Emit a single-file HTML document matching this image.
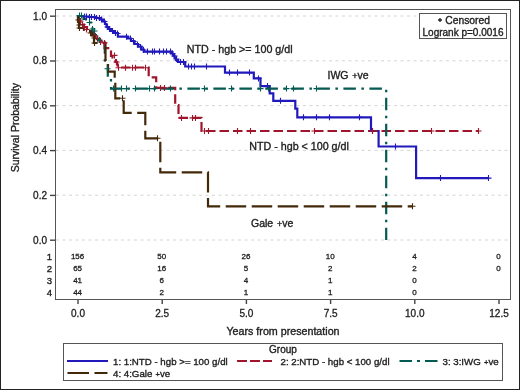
<!DOCTYPE html>
<html><head><meta charset="utf-8"><title>Survival plot</title>
<style>
html,body{margin:0;padding:0;background:#fff;}
body{width:520px;height:390px;overflow:hidden;}
svg{display:block;}
text{font-family:"Liberation Sans", Arial, sans-serif;fill:#222;stroke:#222;stroke-width:0.35px;}
text.t{stroke-width:0.3px;}
</style></head><body>
<svg width="520" height="390" viewBox="0 0 520 390">
<rect x="0.5" y="0.5" width="519" height="389" fill="#fff" stroke="#222" stroke-width="1"/>
<line x1="56" y1="16.0" x2="510" y2="16.0" stroke="#d4d4d4" stroke-width="1" stroke-dasharray="3,3.5"/>
<line x1="56" y1="60.8" x2="510" y2="60.8" stroke="#d4d4d4" stroke-width="1" stroke-dasharray="3,3.5"/>
<line x1="56" y1="105.6" x2="510" y2="105.6" stroke="#d4d4d4" stroke-width="1" stroke-dasharray="3,3.5"/>
<line x1="56" y1="150.4" x2="510" y2="150.4" stroke="#d4d4d4" stroke-width="1" stroke-dasharray="3,3.5"/>
<line x1="56" y1="195.2" x2="510" y2="195.2" stroke="#d4d4d4" stroke-width="1" stroke-dasharray="3,3.5"/>
<line x1="56" y1="240.0" x2="510" y2="240.0" stroke="#d4d4d4" stroke-width="1" stroke-dasharray="3,3.5"/>
<path d="M78,16 H84 V16.5 H89 V17 H96 V18 H100 V19.5 H103 V21.5 H105 V24 H106.5 V27 H108.5 V29 H111 V31 H114 V33 H117.9 V36.7 H128 V38.5 H131 V41 H134.5 V44 H138 V46.5 H141.5 V49.5 H143.8 V51.6 H171.5 V53.5 H173 V55.5 H174.5 V57.5 H176 V60 H178 V62 H185.2 V66.5 H225 V72.6 H253.8 V78.4 H260.5 V86.1 H269.7 V93.3 H273.3 V100.8 H295.3 V108.7 H297.3 V117.3 H371 V131 H378.6 V146.5 H416.1 V178.1 H488.5" fill="none" stroke="#2119BC" stroke-width="2.2"/>
<path d="M78,16 V19 H80 V22 H82 V24.5 H84 V27 H87 V29.5 H90 V32 H94 V35.6 H97 V38.8 H100 V41 H101.5 V42.9 H104.5 V48.2 H111 V56 H112.5 V57.5 H114 V60 H115.5 V62 H117 V64.5 H117.8 V67.5 H148.7 V77.3 H156.2 V87.9 H175.2 V105 H178.5 V117.9 H201.5 V131 H478" fill="none" stroke="#A0152B" stroke-width="2.2" stroke-dasharray="9.5,4"/>
<path d="M78,16 H83.5 V19 H86 V22.5 H91 V26 H92.5 V35 H96 V40 H104.8 V60 H107.8 V79 H111 V88.6 H386.2 V240" fill="none" stroke="#025A50" stroke-width="2.2" stroke-dasharray="12.5,5.5,2.5,5.5"/>
<path d="M78,16 V22 H79 V28 H84 V30 H89 V31 H91.5 V35.5 H94 V43 H105.5 V60.8 H108 V71.7 H114.7 V78 H115.3 V98.3 H123.7 V112.8 H145.3 V138.3 H160.3 V172.3 H208 V206.3 H412" fill="none" stroke="#44280A" stroke-width="2.2" stroke-dasharray="20.5,5.5"/>
<path d="M81.5,16.5H87.5M84.5,13.5V19.5" stroke="#2119BC" stroke-width="1.1" fill="none"/>
<path d="M83.5,16.5H89.5M86.5,13.5V19.5" stroke="#2119BC" stroke-width="1.1" fill="none"/>
<path d="M86.5,17H92.5M89.5,14V20" stroke="#2119BC" stroke-width="1.1" fill="none"/>
<path d="M88.5,17H94.5M91.5,14V20" stroke="#2119BC" stroke-width="1.1" fill="none"/>
<path d="M91.5,17H97.5M94.5,14V20" stroke="#2119BC" stroke-width="1.1" fill="none"/>
<path d="M93.5,18H99.5M96.5,15V21" stroke="#2119BC" stroke-width="1.1" fill="none"/>
<path d="M96.5,18H102.5M99.5,15V21" stroke="#2119BC" stroke-width="1.1" fill="none"/>
<path d="M98.5,19.5H104.5M101.5,16.5V22.5" stroke="#2119BC" stroke-width="1.1" fill="none"/>
<path d="M101.5,21.5H107.5M104.5,18.5V24.5" stroke="#2119BC" stroke-width="1.1" fill="none"/>
<path d="M104.5,27H110.5M107.5,24V30" stroke="#2119BC" stroke-width="1.1" fill="none"/>
<path d="M106.5,29H112.5M109.5,26V32" stroke="#2119BC" stroke-width="1.1" fill="none"/>
<path d="M109.5,31H115.5M112.5,28V34" stroke="#2119BC" stroke-width="1.1" fill="none"/>
<path d="M112.5,33H118.5M115.5,30V36" stroke="#2119BC" stroke-width="1.1" fill="none"/>
<path d="M114.5,33.5H120.5M117.5,30.5V36.5" stroke="#2119BC" stroke-width="1.1" fill="none"/>
<path d="M123.5,36.7H129.5M126.5,33.7V39.7" stroke="#2119BC" stroke-width="1.1" fill="none"/>
<path d="M127.5,38.5H133.5M130.5,35.5V41.5" stroke="#2119BC" stroke-width="1.1" fill="none"/>
<path d="M130.5,41.5H136.5M133.5,38.5V44.5" stroke="#2119BC" stroke-width="1.1" fill="none"/>
<path d="M134.5,44.5H140.5M137.5,41.5V47.5" stroke="#2119BC" stroke-width="1.1" fill="none"/>
<path d="M137.5,47H143.5M140.5,44V50" stroke="#2119BC" stroke-width="1.1" fill="none"/>
<path d="M140.5,50H146.5M143.5,47V53" stroke="#2119BC" stroke-width="1.1" fill="none"/>
<path d="M144.5,51.6H150.5M147.5,48.6V54.6" stroke="#2119BC" stroke-width="1.1" fill="none"/>
<path d="M149.5,51.6H155.5M152.5,48.6V54.6" stroke="#2119BC" stroke-width="1.1" fill="none"/>
<path d="M151.5,51.6H157.5M154.5,48.6V54.6" stroke="#2119BC" stroke-width="1.1" fill="none"/>
<path d="M156.5,51.6H162.5M159.5,48.6V54.6" stroke="#2119BC" stroke-width="1.1" fill="none"/>
<path d="M160.5,51.6H166.5M163.5,48.6V54.6" stroke="#2119BC" stroke-width="1.1" fill="none"/>
<path d="M163.5,51.6H169.5M166.5,48.6V54.6" stroke="#2119BC" stroke-width="1.1" fill="none"/>
<path d="M167.5,51.6H173.5M170.5,48.6V54.6" stroke="#2119BC" stroke-width="1.1" fill="none"/>
<path d="M169.5,53.5H175.5M172.5,50.5V56.5" stroke="#2119BC" stroke-width="1.1" fill="none"/>
<path d="M171.5,56H177.5M174.5,53V59" stroke="#2119BC" stroke-width="1.1" fill="none"/>
<path d="M173.5,59H179.5M176.5,56V62" stroke="#2119BC" stroke-width="1.1" fill="none"/>
<path d="M177.5,62H183.5M180.5,59V65" stroke="#2119BC" stroke-width="1.1" fill="none"/>
<path d="M180.5,62H186.5M183.5,59V65" stroke="#2119BC" stroke-width="1.1" fill="none"/>
<path d="M185.5,66.5H191.5M188.5,63.5V69.5" stroke="#2119BC" stroke-width="1.1" fill="none"/>
<path d="M188.5,66.5H194.5M191.5,63.5V69.5" stroke="#2119BC" stroke-width="1.1" fill="none"/>
<path d="M191.5,66.5H197.5M194.5,63.5V69.5" stroke="#2119BC" stroke-width="1.1" fill="none"/>
<path d="M203.5,66.5H209.5M206.5,63.5V69.5" stroke="#2119BC" stroke-width="1.1" fill="none"/>
<path d="M226.5,72.6H232.5M229.5,69.6V75.6" stroke="#2119BC" stroke-width="1.1" fill="none"/>
<path d="M234.5,72.6H240.5M237.5,69.6V75.6" stroke="#2119BC" stroke-width="1.1" fill="none"/>
<path d="M246.5,72.6H252.5M249.5,69.6V75.6" stroke="#2119BC" stroke-width="1.1" fill="none"/>
<path d="M255.5,78.4H261.5M258.5,75.4V81.4" stroke="#2119BC" stroke-width="1.1" fill="none"/>
<path d="M264.5,86.1H270.5M267.5,83.1V89.1" stroke="#2119BC" stroke-width="1.1" fill="none"/>
<path d="M277.5,100.8H283.5M280.5,97.8V103.8" stroke="#2119BC" stroke-width="1.1" fill="none"/>
<path d="M300.5,117.3H306.5M303.5,114.3V120.3" stroke="#2119BC" stroke-width="1.1" fill="none"/>
<path d="M313.5,117.3H319.5M316.5,114.3V120.3" stroke="#2119BC" stroke-width="1.1" fill="none"/>
<path d="M326.5,117.3H332.5M329.5,114.3V120.3" stroke="#2119BC" stroke-width="1.1" fill="none"/>
<path d="M356.5,117.3H362.5M359.5,114.3V120.3" stroke="#2119BC" stroke-width="1.1" fill="none"/>
<path d="M369.5,131H375.5M372.5,128V134" stroke="#2119BC" stroke-width="1.1" fill="none"/>
<path d="M392.5,146.5H398.5M395.5,143.5V149.5" stroke="#2119BC" stroke-width="1.1" fill="none"/>
<path d="M437.5,178.1H443.5M440.5,175.1V181.1" stroke="#2119BC" stroke-width="1.1" fill="none"/>
<path d="M485.5,178.1H491.5M488.5,175.1V181.1" stroke="#2119BC" stroke-width="1.1" fill="none"/>
<path d="M77.5,21H83.5M80.5,18V24" stroke="#A0152B" stroke-width="1.1" fill="none"/>
<path d="M79.5,24.5H85.5M82.5,21.5V27.5" stroke="#A0152B" stroke-width="1.1" fill="none"/>
<path d="M81.5,27.5H87.5M84.5,24.5V30.5" stroke="#A0152B" stroke-width="1.1" fill="none"/>
<path d="M83.5,29.5H89.5M86.5,26.5V32.5" stroke="#A0152B" stroke-width="1.1" fill="none"/>
<path d="M92.5,36H98.5M95.5,33V39" stroke="#A0152B" stroke-width="1.1" fill="none"/>
<path d="M94.5,38.8H100.5M97.5,35.8V41.8" stroke="#A0152B" stroke-width="1.1" fill="none"/>
<path d="M97.5,42H103.5M100.5,39V45" stroke="#A0152B" stroke-width="1.1" fill="none"/>
<path d="M101.5,42.9H107.5M104.5,39.9V45.9" stroke="#A0152B" stroke-width="1.1" fill="none"/>
<path d="M111.5,55.4H117.5M114.5,52.4V58.4" stroke="#A0152B" stroke-width="1.1" fill="none"/>
<path d="M113.5,62H119.5M116.5,59V65" stroke="#A0152B" stroke-width="1.1" fill="none"/>
<path d="M115.5,67.7H121.5M118.5,64.7V70.7" stroke="#A0152B" stroke-width="1.1" fill="none"/>
<path d="M122.5,67.7H128.5M125.5,64.7V70.7" stroke="#A0152B" stroke-width="1.1" fill="none"/>
<path d="M129.5,67.7H135.5M132.5,64.7V70.7" stroke="#A0152B" stroke-width="1.1" fill="none"/>
<path d="M132.5,67.7H138.5M135.5,64.7V70.7" stroke="#A0152B" stroke-width="1.1" fill="none"/>
<path d="M142.5,67.7H148.5M145.5,64.7V70.7" stroke="#A0152B" stroke-width="1.1" fill="none"/>
<path d="M157.5,87.9H163.5M160.5,84.9V90.9" stroke="#A0152B" stroke-width="1.1" fill="none"/>
<path d="M161.5,87.9H167.5M164.5,84.9V90.9" stroke="#A0152B" stroke-width="1.1" fill="none"/>
<path d="M178.5,117.9H184.5M181.5,114.9V120.9" stroke="#A0152B" stroke-width="1.1" fill="none"/>
<path d="M189.5,117.9H195.5M192.5,114.9V120.9" stroke="#A0152B" stroke-width="1.1" fill="none"/>
<path d="M192.5,117.9H198.5M195.5,114.9V120.9" stroke="#A0152B" stroke-width="1.1" fill="none"/>
<path d="M201.5,131H207.5M204.5,128V134" stroke="#A0152B" stroke-width="1.1" fill="none"/>
<path d="M205.5,131H211.5M208.5,128V134" stroke="#A0152B" stroke-width="1.1" fill="none"/>
<path d="M234.5,131H240.5M237.5,128V134" stroke="#A0152B" stroke-width="1.1" fill="none"/>
<path d="M247.5,131H253.5M250.5,128V134" stroke="#A0152B" stroke-width="1.1" fill="none"/>
<path d="M311.5,131H317.5M314.5,128V134" stroke="#A0152B" stroke-width="1.1" fill="none"/>
<path d="M369.5,131H375.5M372.5,128V134" stroke="#A0152B" stroke-width="1.1" fill="none"/>
<path d="M428.5,131H434.5M431.5,128V134" stroke="#A0152B" stroke-width="1.1" fill="none"/>
<path d="M475.5,131H481.5M478.5,128V134" stroke="#A0152B" stroke-width="1.1" fill="none"/>
<path d="M76.5,15.5H82.5M79.5,12.5V18.5" stroke="#025A50" stroke-width="1.1" fill="none"/>
<path d="M78.5,15.5H84.5M81.5,12.5V18.5" stroke="#025A50" stroke-width="1.1" fill="none"/>
<path d="M86.5,22.5H92.5M89.5,19.5V25.5" stroke="#025A50" stroke-width="1.1" fill="none"/>
<path d="M89.5,29H95.5M92.5,26V32" stroke="#025A50" stroke-width="1.1" fill="none"/>
<path d="M91.5,31H97.5M94.5,28V34" stroke="#025A50" stroke-width="1.1" fill="none"/>
<path d="M96.5,40H102.5M99.5,37V43" stroke="#025A50" stroke-width="1.1" fill="none"/>
<path d="M104.5,68.8H110.5M107.5,65.8V71.8" stroke="#025A50" stroke-width="1.1" fill="none"/>
<path d="M110.5,88.6H116.5M113.5,85.6V91.6" stroke="#025A50" stroke-width="1.1" fill="none"/>
<path d="M118.5,88.6H124.5M121.5,85.6V91.6" stroke="#025A50" stroke-width="1.1" fill="none"/>
<path d="M123.5,88.6H129.5M126.5,85.6V91.6" stroke="#025A50" stroke-width="1.1" fill="none"/>
<path d="M132.5,88.6H138.5M135.5,85.6V91.6" stroke="#025A50" stroke-width="1.1" fill="none"/>
<path d="M146.5,88.6H152.5M149.5,85.6V91.6" stroke="#025A50" stroke-width="1.1" fill="none"/>
<path d="M151.5,88.6H157.5M154.5,85.6V91.6" stroke="#025A50" stroke-width="1.1" fill="none"/>
<path d="M167.5,88.6H173.5M170.5,85.6V91.6" stroke="#025A50" stroke-width="1.1" fill="none"/>
<path d="M201.5,88.6H207.5M204.5,85.6V91.6" stroke="#025A50" stroke-width="1.1" fill="none"/>
<path d="M228.5,88.6H234.5M231.5,85.6V91.6" stroke="#025A50" stroke-width="1.1" fill="none"/>
<path d="M257.5,88.6H263.5M260.5,85.6V91.6" stroke="#025A50" stroke-width="1.1" fill="none"/>
<path d="M265.5,88.6H271.5M268.5,85.6V91.6" stroke="#025A50" stroke-width="1.1" fill="none"/>
<path d="M283.5,88.6H289.5M286.5,85.6V91.6" stroke="#025A50" stroke-width="1.1" fill="none"/>
<path d="M290.5,88.6H296.5M293.5,85.6V91.6" stroke="#025A50" stroke-width="1.1" fill="none"/>
<path d="M313.5,88.6H319.5M316.5,85.6V91.6" stroke="#025A50" stroke-width="1.1" fill="none"/>
<path d="M75.5,20H81.5M78.5,17V23" stroke="#44280A" stroke-width="1.1" fill="none"/>
<path d="M76.5,25H82.5M79.5,22V28" stroke="#44280A" stroke-width="1.1" fill="none"/>
<path d="M76.5,28H82.5M79.5,25V31" stroke="#44280A" stroke-width="1.1" fill="none"/>
<path d="M87.5,33H93.5M90.5,30V36" stroke="#44280A" stroke-width="1.1" fill="none"/>
<path d="M91.5,38H97.5M94.5,35V41" stroke="#44280A" stroke-width="1.1" fill="none"/>
<path d="M91.5,43H97.5M94.5,40V46" stroke="#44280A" stroke-width="1.1" fill="none"/>
<path d="M119.5,98.3H125.5M122.5,95.3V101.3" stroke="#44280A" stroke-width="1.1" fill="none"/>
<path d="M154.5,138.3H160.5M157.5,135.3V141.3" stroke="#44280A" stroke-width="1.1" fill="none"/>
<path d="M409.5,206.3H415.5M412.5,203.3V209.3" stroke="#44280A" stroke-width="1.1" fill="none"/>
<rect x="55.5" y="9.5" width="455" height="290" fill="none" stroke="#555" stroke-width="1"/>
<line x1="50" y1="16.2" x2="55" y2="16.2" stroke="#444" stroke-width="1.4"/>
<text x="47" y="19.5" text-anchor="end" font-size="10" class="t">1.0</text>
<line x1="50" y1="61.0" x2="55" y2="61.0" stroke="#444" stroke-width="1.4"/>
<text x="47" y="64.3" text-anchor="end" font-size="10" class="t">0.8</text>
<line x1="50" y1="105.8" x2="55" y2="105.8" stroke="#444" stroke-width="1.4"/>
<text x="47" y="109.1" text-anchor="end" font-size="10" class="t">0.6</text>
<line x1="50" y1="150.6" x2="55" y2="150.6" stroke="#444" stroke-width="1.4"/>
<text x="47" y="153.9" text-anchor="end" font-size="10" class="t">0.4</text>
<line x1="50" y1="195.4" x2="55" y2="195.4" stroke="#444" stroke-width="1.4"/>
<text x="47" y="198.7" text-anchor="end" font-size="10" class="t">0.2</text>
<line x1="50" y1="240.2" x2="55" y2="240.2" stroke="#444" stroke-width="1.4"/>
<text x="47" y="243.5" text-anchor="end" font-size="10" class="t">0.0</text>
<line x1="78.0" y1="300" x2="78.0" y2="304" stroke="#444" stroke-width="1.4"/>
<text x="78.0" y="316.9" text-anchor="middle" font-size="10" class="t">0.0</text>
<line x1="162.2" y1="300" x2="162.2" y2="304" stroke="#444" stroke-width="1.4"/>
<text x="162.2" y="316.9" text-anchor="middle" font-size="10" class="t">2.5</text>
<line x1="246.4" y1="300" x2="246.4" y2="304" stroke="#444" stroke-width="1.4"/>
<text x="246.4" y="316.9" text-anchor="middle" font-size="10" class="t">5.0</text>
<line x1="330.6" y1="300" x2="330.6" y2="304" stroke="#444" stroke-width="1.4"/>
<text x="330.6" y="316.9" text-anchor="middle" font-size="10" class="t">7.5</text>
<line x1="414.8" y1="300" x2="414.8" y2="304" stroke="#444" stroke-width="1.4"/>
<text x="414.8" y="316.9" text-anchor="middle" font-size="10" class="t">10.0</text>
<line x1="499.0" y1="300" x2="499.0" y2="304" stroke="#444" stroke-width="1.4"/>
<text x="499.0" y="316.9" text-anchor="middle" font-size="10" class="t">12.5</text>
<text x="49.5" y="259.9" text-anchor="middle" font-size="9.5">1</text>
<text x="77.6" y="259.4" text-anchor="middle" font-size="8" class="t">156</text>
<text x="161.8" y="259.4" text-anchor="middle" font-size="8" class="t">50</text>
<text x="246.0" y="259.4" text-anchor="middle" font-size="8" class="t">26</text>
<text x="330.2" y="259.4" text-anchor="middle" font-size="8" class="t">10</text>
<text x="414.4" y="259.4" text-anchor="middle" font-size="8" class="t">4</text>
<text x="498.6" y="259.4" text-anchor="middle" font-size="8" class="t">0</text>
<text x="49.5" y="271.9" text-anchor="middle" font-size="9.5">2</text>
<text x="77.6" y="271.4" text-anchor="middle" font-size="8" class="t">65</text>
<text x="161.8" y="271.4" text-anchor="middle" font-size="8" class="t">16</text>
<text x="246.0" y="271.4" text-anchor="middle" font-size="8" class="t">5</text>
<text x="330.2" y="271.4" text-anchor="middle" font-size="8" class="t">2</text>
<text x="414.4" y="271.4" text-anchor="middle" font-size="8" class="t">2</text>
<text x="498.6" y="271.4" text-anchor="middle" font-size="8" class="t">0</text>
<text x="49.5" y="283.9" text-anchor="middle" font-size="9.5">3</text>
<text x="77.6" y="283.4" text-anchor="middle" font-size="8" class="t">41</text>
<text x="161.8" y="283.4" text-anchor="middle" font-size="8" class="t">6</text>
<text x="246.0" y="283.4" text-anchor="middle" font-size="8" class="t">4</text>
<text x="330.2" y="283.4" text-anchor="middle" font-size="8" class="t">1</text>
<text x="414.4" y="283.4" text-anchor="middle" font-size="8" class="t">0</text>
<text x="49.5" y="295.9" text-anchor="middle" font-size="9.5">4</text>
<text x="77.6" y="295.4" text-anchor="middle" font-size="8" class="t">44</text>
<text x="161.8" y="295.4" text-anchor="middle" font-size="8" class="t">2</text>
<text x="246.0" y="295.4" text-anchor="middle" font-size="8" class="t">1</text>
<text x="330.2" y="295.4" text-anchor="middle" font-size="8" class="t">1</text>
<text x="414.4" y="295.4" text-anchor="middle" font-size="8" class="t">0</text>
<text x="283" y="335" text-anchor="middle" font-size="10.7">Years from presentation</text>
<text transform="translate(19,127.7) rotate(-90)" text-anchor="middle" font-size="10.5">Survival Probability</text>
<text x="186.8" y="53" font-size="10.7">NTD - hgb &gt;= 100 g/dl</text>
<text x="327.5" y="78.6" font-size="10.5">IWG <tspan font-size="9" dx="0.8">+</tspan>ve</text>
<text x="249.3" y="149.6" font-size="10.7">NTD - hgb &lt; 100 g/dl</text>
<text x="251" y="226.8" font-size="10.5">Gale <tspan font-size="9" dx="0.8">+</tspan>ve</text>
<rect x="419.5" y="13.5" width="87" height="25" fill="#fff" stroke="#555" stroke-width="1"/>
<path d="M438,20H442M440,18V22" stroke="#222" stroke-width="1.3" fill="none"/>
<text x="445.3" y="23.8" font-size="10.3">Censored</text>
<text x="463" y="36" text-anchor="middle" font-size="10">Logrank p=0.0016</text>
<rect x="63.5" y="343.5" width="439" height="37" fill="none" stroke="#555" stroke-width="1"/>
<text x="283" y="352.7" text-anchor="middle" font-size="10">Group</text>
<line x1="67" y1="361" x2="108" y2="361" stroke="#2119BC" stroke-width="2.2"/>
<text x="113" y="365.3" font-size="9.7">1: 1:NTD - hgb &gt;= 100 g/dl</text>
<line x1="237" y1="361" x2="272" y2="361" stroke="#A0152B" stroke-width="2.2" stroke-dasharray="10,3"/>
<text x="280.5" y="365.3" font-size="9.7">2: 2:NTD - hgb &lt; 100 g/dl</text>
<line x1="399.5" y1="361" x2="437.5" y2="361" stroke="#025A50" stroke-width="2.2" stroke-dasharray="12.5,5,3,5"/>
<text x="442.5" y="365.3" font-size="9.7">3: 3:IWG <tspan font-size="7.5" dx="0.6">+</tspan>ve</text>
<line x1="67.5" y1="373" x2="107.5" y2="373" stroke="#44280A" stroke-width="2.2" stroke-dasharray="21.5,5.5"/>
<text x="113" y="377.4" font-size="9.7">4: 4:Gale <tspan font-size="7.5" dx="0.6">+</tspan>ve</text>
</svg>
</body></html>
